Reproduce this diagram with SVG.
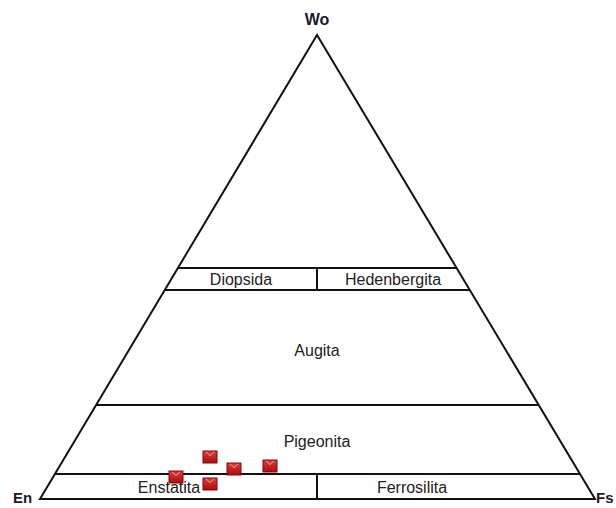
<svg xmlns="http://www.w3.org/2000/svg" width="616" height="508" viewBox="0 0 616 508">
<style>
.ln{stroke:#111;stroke-width:2;fill:none}
.lbl{font-family:"Liberation Sans",Arial,sans-serif;font-size:16px;fill:#222;text-anchor:middle}
.vx{font-family:"Liberation Sans",Arial,sans-serif;font-size:16px;font-weight:bold;fill:#1a1a2e}
</style>
<defs>
<linearGradient id="mg" x1="0" y1="0" x2="0" y2="1">
<stop offset="0" stop-color="#e23c3c"/>
<stop offset="1" stop-color="#a80e0e"/>
</linearGradient>
<g id="mk">
<rect x="-7" y="-6" width="14" height="12" fill="url(#mg)" stroke="#7a0a0a" stroke-width="1"/>
<path d="M-4,-5 L0,-1.5 L4,-5" fill="none" stroke="#f2a0a0" stroke-width="1"/>
</g>
</defs>
<rect width="616" height="508" fill="#fff"/>
<g id="connectors">
<polygon class="ln" points="317,35 40,499 595,499"/>
<line class="ln" x1="55" y1="474" x2="580" y2="474"/>
<line class="ln" x1="317" y1="474" x2="317" y2="499"/>
<line class="ln" x1="96" y1="405" x2="539" y2="405"/>
<line class="ln" x1="177" y1="268" x2="457" y2="268"/>
<line class="ln" x1="164" y1="290" x2="470" y2="290"/>
<line class="ln" x1="317" y1="268" x2="317" y2="290"/>
</g>
<g id="wo"><text class="vx" x="317" y="25" text-anchor="middle">Wo</text></g>
<g id="en"><text class="vx" x="13" y="503" style="font-size:15px">En</text></g>
<g id="fs"><text class="vx" x="596" y="503" style="font-size:15px">Fs</text></g>
<g id="diopsida"><text class="lbl" x="241" y="285">Diopsida</text></g>
<g id="hedenbergita"><text class="lbl" x="393" y="285">Hedenbergita</text></g>
<g id="augita"><text class="lbl" x="317" y="356">Augita</text></g>
<g id="pigeonita"><text class="lbl" x="317" y="447">Pigeonita</text></g>
<g id="enstatita"><text class="lbl" x="169" y="493">Enstatita</text></g>
<g id="ferrosilita"><text class="lbl" x="412" y="493">Ferrosilita</text></g>
<g id="points">
<use href="#mk" x="176" y="477"/>
<use href="#mk" x="210" y="457"/>
<use href="#mk" x="234" y="469"/>
<use href="#mk" x="270" y="466"/>
<use href="#mk" x="210" y="484"/>
</g>
</svg>
